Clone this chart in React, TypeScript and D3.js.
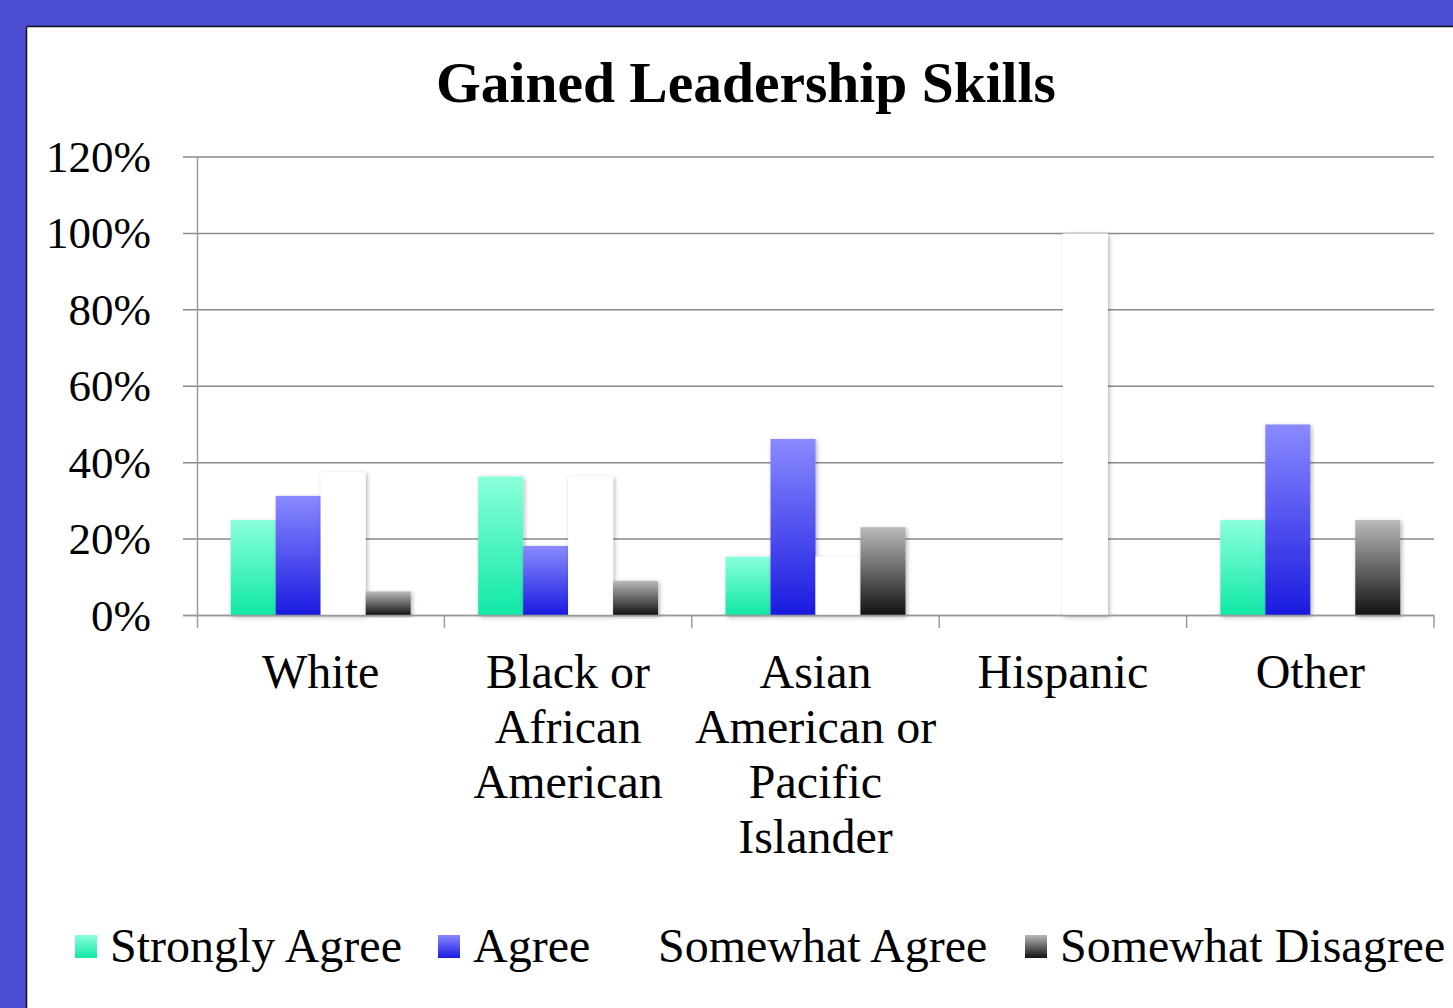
import React from "react";
import * as d3 from "d3";

const categories = ["White", "Black or African American", "Asian American or Pacific Islander", "Hispanic", "Other"];
const categoryLines = [["White"], ["Black or", "African", "American"], ["Asian", "American or", "Pacific", "Islander"], ["Hispanic"], ["Other"]];
const seriesNames = ["Strongly Agree", "Agree", "Somewhat Agree", "Somewhat Disagree"];
const stronglyAgree = [0.25, 0.364, 0.154, 0, 0.25];
const agree = [0.313, 0.182, 0.462, 0, 0.5];
const somewhatAgree = [0.375, 0.364, 0.154, 1.0, 0];
const somewhatDisagree = [0.063, 0.091, 0.231, 0, 0.25];
const yTicks = [0, 0.2, 0.4, 0.6, 0.8, 1.0, 1.2];

const seriesValues = [stronglyAgree, agree, somewhatAgree, somewhatDisagree];
const gradients = [
  { id: "gSA", top: "#8affdc", bottom: "#10e8a6" },
  { id: "gA", top: "#8a8aff", bottom: "#1a1ae0" },
  { id: "gSWA", top: "#ffffff", bottom: "#ffffff" },
  { id: "gSWD", top: "#bababa", bottom: "#111111" },
];
const legendX = [75, 438, 623, 1025];

const W = 1453;
const H = 1008;
const FONT = "'Liberation Serif', 'Times New Roman', serif";

export default function App() {
  const x0 = d3.scaleBand<string>().domain(categories).range([197, 1434]).paddingInner(0).paddingOuter(0);
  const x1 = d3.scaleBand<string>().domain(seriesNames).range([0, x0.bandwidth()]).paddingInner(0).paddingOuter(0.75);
  const y = d3.scaleLinear().domain([0, 1.2]).range([615.5, 157]);
  const fmt = d3.format(".0%");

  return (
    <div style={{ position: "absolute", left: 0, top: 0 }}>
      <svg width={W} height={H} style={{ display: "block" }}>
        <defs>
          {gradients.map((g) => (
            <linearGradient key={g.id} id={g.id} x1="0" y1="0" x2="0" y2="1">
              <stop offset="0" stopColor={g.top} />
              <stop offset="1" stopColor={g.bottom} />
            </linearGradient>
          ))}
          <filter id="shadow" x="-30%" y="-10%" width="160%" height="120%">
            <feDropShadow dx="1.5" dy="1.5" stdDeviation="2" floodColor="#000" floodOpacity="0.3" />
          </filter>
        </defs>
        <rect x={0} y={0} width={W} height={H} fill="#4d4dd1" />
        <rect x={27} y={27} width={W - 27} height={H - 27} fill="#ffffff" />
        <line x1={27} y1={26.5} x2={W} y2={26.5} stroke="#111" strokeWidth={1.5} />
        <line x1={26.5} y1={26.5} x2={26.5} y2={H} stroke="#111" strokeWidth={1.5} />

        <text x={746} y={102} textAnchor="middle" fontFamily={FONT} fontWeight="bold" fontSize={57.5} fill="#000">
          Gained Leadership Skills
        </text>

        {yTicks.map((t) => (
          <g key={t}>
            <line x1={183} x2={1434} y1={y(t)} y2={y(t)} stroke="#8a8a8a" strokeWidth={1.5} />
            <text x={151} y={y(t) + 15} textAnchor="end" fontFamily={FONT} fontSize={45} fill="#000">
              {fmt(t)}
            </text>
          </g>
        ))}
        <line x1={197.5} x2={197.5} y1={157} y2={628} stroke="#9a9a9a" strokeWidth={1.5} />
        {categories.map((c) => (
          <line key={c} x1={(x0(c) as number) + x0.bandwidth()} x2={(x0(c) as number) + x0.bandwidth()} y1={615} y2={628} stroke="#9a9a9a" strokeWidth={1.5} />
        ))}

        {categories.map((c, ci) => (
          <g key={c} transform={`translate(${x0(c)},0)`}>
            {seriesNames.map((s, si) => {
              const v = seriesValues[si][ci];
              if (!v) return null;
              return (
                <rect
                  key={s}
                  x={x1(s)}
                  y={y(v)}
                  width={x1.bandwidth()}
                  height={y(0) - y(v)}
                  fill={`url(#${gradients[si].id})`}
                  filter="url(#shadow)"
                />
              );
            })}
          </g>
        ))}
        <line x1={183} x2={1434} y1={615.5} y2={615.5} stroke="#9a9a9a" strokeWidth={1.5} />

        {categories.map((c, ci) => (
          <text key={c} textAnchor="middle" fontFamily={FONT} fontSize={48} fill="#000">
            {categoryLines[ci].map((ln, li) => (
              <tspan key={li} x={(x0(c) as number) + x0.bandwidth() / 2} y={688 + li * 55}>
                {ln}
              </tspan>
            ))}
          </text>
        ))}

        {seriesNames.map((s, si) => (
          <g key={s} transform={`translate(${legendX[si]},0)`}>
            <rect x={0} y={935} width={22} height={23} fill={`url(#${gradients[si].id})`} />
            <text x={35} y={962} fontFamily={FONT} fontSize={48} fill="#000">
              {s}
            </text>
          </g>
        ))}
      </svg>
    </div>
  );
}
